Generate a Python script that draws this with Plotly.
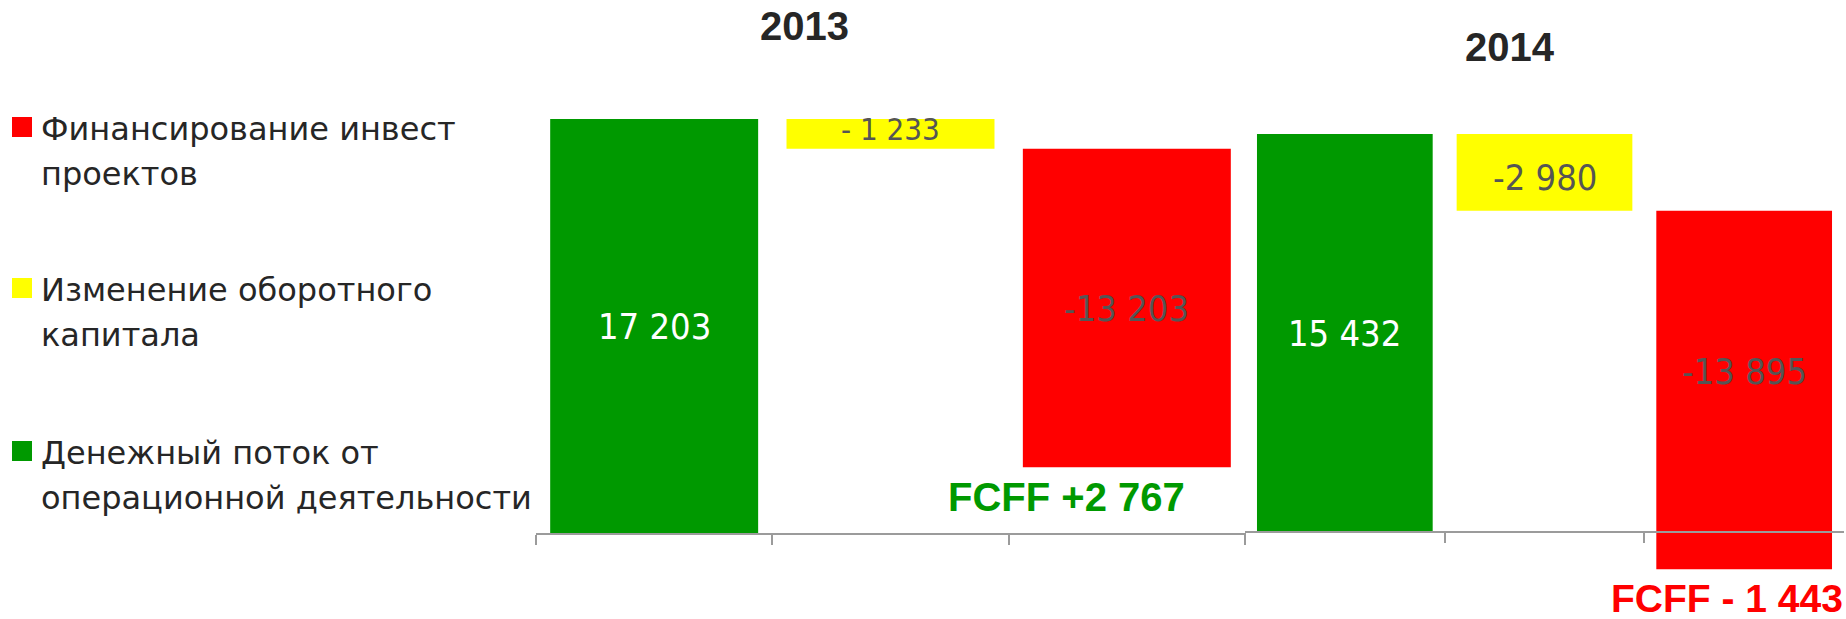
import plotly.graph_objects as go

# ---------------- data ----------------
years = ["2013", "2014"]
categories = ["Денежный поток", "Оборотный капитал", "Инвест проекты"]
legend_names = [
    ["Финансирование инвест", "проектов"],
    ["Изменение оборотного", "капитала"],
    ["Денежный поток от", "операционной деятельности"],
]
values_2013 = [17203, -1233, -13203]
values_2014 = [15432, -2980, -13895]
labels_2013 = ["17 203", "- 1 233", "-13 203"]
labels_2014 = ["15 432", "-2 980", "-13 895"]
fcff_labels = ["FCFF +2 767", "FCFF - 1 443"]

# ---------------- style ----------------
W, H = 1846, 619
GREEN, YELLOW, RED = "#009900", "#FFFF00", "#FF0000"
bar_colors = [GREEN, YELLOW, RED]
legend_colors = [RED, YELLOW, GREEN]
label_colors = ["#FFFFFF", "#555555", "#555555"]
label_sizes_2013 = [36, 31, 36]
label_sizes_2014 = [36, 36, 36]
label_yshift_2013 = [0, 5, 0]
label_yshift_2014 = [0, -5, 0]
AXIS_GRAY = "#9B9B9B"
TEXT_DARK = "#262626"
NUM_FONT = "DejaVu Sans Condensed, DejaVu Sans, sans-serif"
BOLD_FONT = "Liberation Sans, Arial, sans-serif"
LEG_FONT = "DejaVu Sans, Verdana, sans-serif"

yr1 = [-3524, 22139]
yr2 = [-3373, 20628]


def bases(vals):
    out, acc = [], 0
    for v in vals:
        out.append(acc)
        acc += v
    return out


fig = go.Figure()
panels = [
    (values_2013, labels_2013, label_sizes_2013, label_yshift_2013, "x", "y"),
    (values_2014, labels_2014, label_sizes_2014, label_yshift_2014, "x2", "y2"),
]
annotations = []
for vals, labs, sizes, shifts, xa, ya in panels:
    b = bases(vals)
    fig.add_trace(go.Bar(
        x=categories, y=vals, base=b,
        marker=dict(color=bar_colors, line=dict(width=0)),
        xaxis=xa, yaxis=ya, showlegend=False, hoverinfo="skip",
    ))
    for cat, v, st, lab, col, sz, sh in zip(categories, vals, b, labs, label_colors, sizes, shifts):
        end = st + v
        lo, hi = sorted([max(st, 0), max(end, 0)])
        annotations.append(dict(
            x=cat, y=(lo + hi) / 2, xref=xa, yref=ya, text=lab, showarrow=False,
            font=dict(family=NUM_FONT, size=sz, color=col),
            xanchor="center", yanchor="middle", yshift=sh,
        ))

# year titles
annotations.append(dict(x=804 / W, y=1 - 26 / H, xref="paper", yref="paper", text="<b>" + years[0] + "</b>",
                        showarrow=False, font=dict(family=BOLD_FONT, size=40, color=TEXT_DARK),
                        xanchor="center", yanchor="middle"))
annotations.append(dict(x=1510 / W, y=1 - 47 / H, xref="paper", yref="paper", text="<b>" + years[1] + "</b>",
                        showarrow=False, font=dict(family=BOLD_FONT, size=40, color=TEXT_DARK),
                        xanchor="center", yanchor="middle"))

# FCFF labels
annotations.append(dict(x=1066 / W, y=1 - 497 / H, xref="paper", yref="paper", text="<b>" + fcff_labels[0] + "</b>",
                        showarrow=False, font=dict(family=BOLD_FONT, size=40, color=GREEN),
                        xanchor="center", yanchor="middle"))
annotations.append(dict(x=1845 / W, y=1 - 598 / H, xref="paper", yref="paper", text="<b>" + fcff_labels[1] + "</b>",
                        showarrow=False, font=dict(family=BOLD_FONT, size=39, color=RED),
                        xanchor="right", yanchor="middle"))

# legend (manual)
shapes = []
first_line_centers = [129, 290, 453]
line_gap = 45
for names, col, cy0 in zip(legend_names, legend_colors, first_line_centers):
    top = cy0 - 12
    shapes.append(dict(type="rect", xref="paper", yref="paper",
                       x0=12 / W, x1=32 / W, y0=1 - (top + 20) / H, y1=1 - top / H,
                       fillcolor=col, line=dict(width=0)))
    for i, line in enumerate(names):
        cy = cy0 + i * line_gap
        annotations.append(dict(x=39 / W, y=1 - cy / H, xref="paper", yref="paper", text=line,
                                showarrow=False, font=dict(family=LEG_FONT, size=32, color=TEXT_DARK),
                                xanchor="left", yanchor="middle"))

xcommon = dict(type="category", showticklabels=False, showgrid=False, zeroline=False,
               showline=True, linecolor=AXIS_GRAY, linewidth=2,
               ticks="outside", tickson="boundaries", ticklen=10, tickwidth=2, tickcolor=AXIS_GRAY,
               range=[-0.5, 2.5], fixedrange=True)
fig.update_layout(
    width=W, height=H, margin=dict(l=0, r=0, t=0, b=0),
    paper_bgcolor="white", plot_bgcolor="rgba(0,0,0,0)",
    barmode="overlay", bargap=0.12, showlegend=False,
    xaxis=dict(domain=[536 / W, 1245 / W], anchor="free",
               position=-yr1[0] / (yr1[1] - yr1[0]), **xcommon),
    xaxis2=dict(domain=[1245 / W, 1844 / W], anchor="free",
                position=-yr2[0] / (yr2[1] - yr2[0]), **xcommon),
    yaxis=dict(domain=[0, 1], range=yr1, visible=False, anchor="x", fixedrange=True),
    yaxis2=dict(domain=[0, 1], range=yr2, visible=False, anchor="x2", fixedrange=True),
    annotations=annotations, shapes=shapes,
)

fig.write_html("out.html", config={"displayModeBar": False},
               post_script="document.body.style.margin='0';document.body.style.overflow='hidden';")
